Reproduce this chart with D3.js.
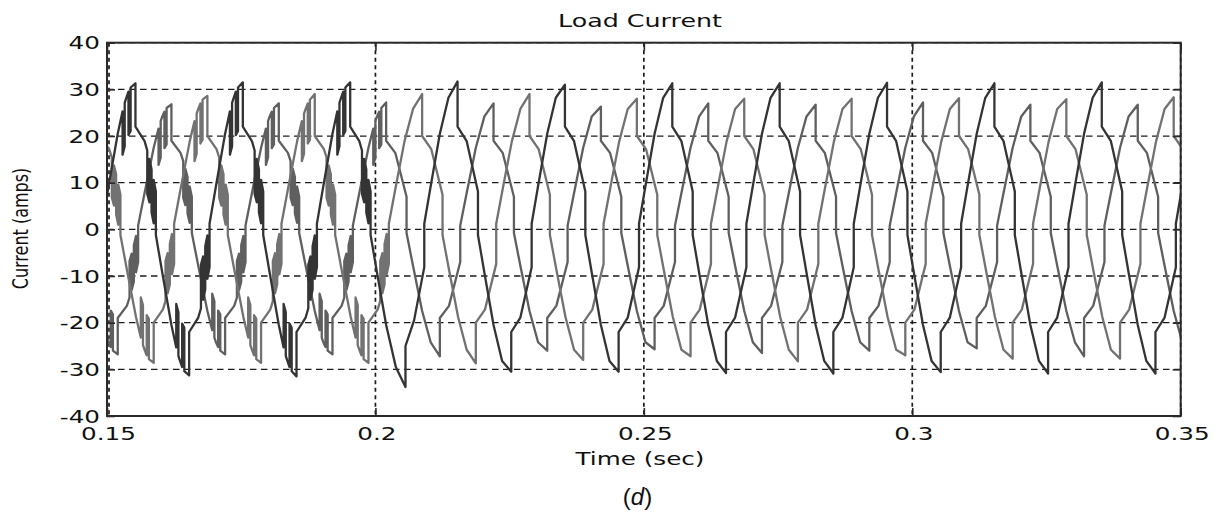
<!DOCTYPE html>
<html>
<head>
<meta charset="utf-8">
<script src="https://cdn.jsdelivr.net/npm/d3@7"></script>
<style>
  body { margin: 0; background: #fff; }
  svg { display: block; }
</style>
</head>
<body>
<svg id="chart" width="1217" height="512"></svg>
<script>
// Axis ticks (time in seconds, current in amps)
const xTicks = [0.15, 0.2, 0.25, 0.3, 0.35];
const xTickLabels = ["0.15", "0.2", "0.25", "0.3", "0.35"];
const yTicks = [-40, -30, -20, -10, 0, 10, 20, 30, 40];
const yTickLabels = ["-40", "-30", "-20", "-10", "0", "10", "20", "30", "40"];

// Three-phase load current samples: [time (ms), current (A)].
// Repeated times mark the switching steps.
const phaseA = [
  [145.3,-22.0],[147.0,-18.9],[149.1,-8.1],[149.1,1.2],[150.3,9.3],[152.0,20.5],
  [152.9,25.3],[152.9,16.0],[153.3,17.8],[153.3,27.1],[153.6,28.2],[154.0,29.5],[154.0,20.2],[154.4,21.1],[154.4,30.4],[155.3,31.3],[155.3,22.0],
  [157.0,18.9],
  [157.5,16.9],[157.5,7.6],[157.9,5.8],[157.9,15.1],[158.3,12.9],[158.3,3.6],[158.7,1.3],[158.7,10.6],[159.1,8.1],[159.1,-1.2],
  [160.3,-9.3],[162.0,-20.5],
  [162.9,-25.3],[162.9,-16.0],[163.3,-17.8],[163.3,-27.1],[163.6,-28.2],[164.0,-29.5],[164.0,-20.2],[164.4,-21.1],[164.4,-30.4],[165.3,-31.3],[165.3,-22.0],
  [167.0,-18.9],
  [167.5,-16.9],[167.5,-7.6],[167.9,-5.8],[167.9,-15.1],[168.3,-12.9],[168.3,-3.6],[168.7,-1.3],[168.7,-10.6],[169.1,-8.1],[169.1,1.2],
  [170.3,9.3],[172.0,20.5],
  [172.9,25.3],[172.9,16.0],[173.3,17.8],[173.3,27.1],[173.6,28.2],[174.0,29.5],[174.0,20.2],[174.4,21.1],[174.4,30.4],[175.3,31.5],[175.3,22.0],
  [177.0,18.9],
  [177.5,16.9],[177.5,7.6],[177.9,5.8],[177.9,15.1],[178.3,12.9],[178.3,3.6],[178.7,1.3],[178.7,10.6],[179.1,8.1],[179.1,-1.2],
  [180.3,-9.3],[182.0,-20.5],
  [182.9,-25.3],[182.9,-16.0],[183.3,-17.8],[183.3,-27.1],[183.6,-28.2],[184.0,-29.5],[184.0,-20.2],[184.4,-21.1],[184.4,-30.4],[185.3,-31.5],[185.3,-22.0],
  [187.0,-18.9],
  [187.5,-16.9],[187.5,-7.6],[187.9,-5.8],[187.9,-15.1],[188.3,-12.9],[188.3,-3.6],[188.7,-1.3],[188.7,-10.6],[189.1,-8.1],[189.1,1.2],
  [190.3,9.3],[192.0,20.5],
  [192.9,25.3],[192.9,16.0],[193.3,17.8],[193.3,27.1],[193.6,28.2],[194.0,29.5],[194.0,20.2],[194.4,21.1],[194.4,30.4],[195.3,31.5],[195.3,22.0],
  [197.0,18.9],
  [197.5,16.9],[197.5,7.6],[197.9,5.8],[197.9,15.1],[198.3,12.9],[198.3,3.6],[198.7,1.3],[198.7,10.6],[199.1,8.1],[199.1,-1.2],
  [200.3,-9.3],[202.0,-20.5],[203.8,-29.5],[205.6,-33.8],[205.6,-25.0],
  [207.2,-19.5],[209.1,-8.1],[209.1,1.2],[210.3,9.3],[212.0,20.5],[213.6,28.2],[215.3,31.7],[215.3,22.0],
  [217.0,18.9],[219.1,8.1],[219.1,-1.2],[220.3,-9.3],[222.0,-20.5],[223.6,-28.2],[225.3,-30.5],[225.3,-22.0],
  [227.0,-18.9],[229.1,-8.1],[229.1,1.2],[230.3,9.3],[232.0,20.5],[233.6,28.2],[235.3,31.0],[235.3,22.0],
  [237.0,18.9],[239.1,8.1],[239.1,-1.2],[240.3,-9.3],[242.0,-20.5],[243.6,-28.2],[245.3,-30.5],[245.3,-22.0],
  [247.0,-18.9],[249.1,-8.1],[249.1,1.2],[250.3,9.3],[252.0,20.5],[253.6,28.2],[255.3,31.3],[255.3,22.0],
  [257.0,18.9],[259.1,8.1],[259.1,-1.2],[260.3,-9.3],[262.0,-20.5],[263.6,-28.2],[265.3,-30.8],[265.3,-22.0],
  [267.0,-18.9],[269.1,-8.1],[269.1,1.2],[270.3,9.3],[272.0,20.5],[273.6,28.2],[275.3,31.3],[275.3,22.0],
  [277.0,18.9],[279.1,8.1],[279.1,-1.2],[280.3,-9.3],[282.0,-20.5],[283.6,-28.2],[285.3,-30.9],[285.3,-22.0],
  [287.0,-18.9],[289.1,-8.1],[289.1,1.2],[290.3,9.3],[292.0,20.5],[293.6,28.2],[295.3,31.4],[295.3,22.0],
  [297.0,18.9],[299.1,8.1],[299.1,-1.2],[300.3,-9.3],[302.0,-20.5],[303.6,-28.2],[305.3,-30.6],[305.3,-22.0],
  [307.0,-18.9],[309.1,-8.1],[309.1,1.2],[310.3,9.3],[312.0,20.5],[313.6,28.2],[315.3,31.3],[315.3,22.0],
  [317.0,18.9],[319.1,8.1],[319.1,-1.2],[320.3,-9.3],[322.0,-20.5],[323.6,-28.2],[325.3,-30.9],[325.3,-22.0],
  [327.0,-18.9],[329.1,-8.1],[329.1,1.2],[330.3,9.3],[332.0,20.5],[333.6,28.2],[335.3,31.5],[335.3,22.0],
  [337.0,18.9],[339.1,8.1],[339.1,-1.2],[340.3,-9.3],[342.0,-20.5],[343.6,-28.2],[345.3,-30.9],[345.3,-22.0],
  [347.0,-18.9],[349.1,-8.1],[349.1,1.2],[350.3,9.3],[352.0,20.5]
];

const phaseB = [
  [147.0,-7.8],[148.7,-17.5],
  [149.6,-21.6],[149.6,-13.8],[150.0,-15.4],[150.0,-23.2],[150.3,-24.2],[150.7,-25.2],[150.7,-17.4],[151.1,-18.2],[151.1,-26.0],[152.0,-26.8],[152.0,-19.0],
  [153.7,-16.4],
  [154.2,-14.6],[154.2,-6.8],[154.6,-5.2],[154.6,-13.0],[155.0,-11.2],[155.0,-3.4],[155.4,-1.4],[155.4,-9.2],[155.8,-7.0],[155.8,0.8],
  [157.0,7.8],[158.7,17.5],
  [159.6,21.6],[159.6,13.8],[160.0,15.4],[160.0,23.2],[160.3,24.2],[160.7,25.2],[160.7,17.4],[161.1,18.2],[161.1,26.0],[162.0,26.8],[162.0,19.0],
  [163.7,16.4],
  [164.2,14.6],[164.2,6.8],[164.6,5.2],[164.6,13.0],[165.0,11.2],[165.0,3.4],[165.4,1.4],[165.4,9.2],[165.8,7.0],[165.8,-0.8],
  [167.0,-7.8],[168.7,-17.5],
  [169.6,-21.6],[169.6,-13.8],[170.0,-15.4],[170.0,-23.2],[170.3,-24.2],[170.7,-25.2],[170.7,-17.4],[171.1,-18.2],[171.1,-26.0],[172.0,-26.8],[172.0,-19.0],
  [173.7,-16.4],
  [174.2,-14.6],[174.2,-6.8],[174.6,-5.2],[174.6,-13.0],[175.0,-11.2],[175.0,-3.4],[175.4,-1.4],[175.4,-9.2],[175.8,-7.0],[175.8,0.8],
  [177.0,7.8],[178.7,17.5],
  [179.6,21.6],[179.6,13.8],[180.0,15.4],[180.0,23.2],[180.3,24.2],[180.7,25.2],[180.7,17.4],[181.1,18.2],[181.1,26.0],[182.0,27.0],[182.0,19.0],
  [183.7,16.4],
  [184.2,14.6],[184.2,6.8],[184.6,5.2],[184.6,13.0],[185.0,11.2],[185.0,3.4],[185.4,1.4],[185.4,9.2],[185.8,7.0],[185.8,-0.8],
  [187.0,-7.8],[188.7,-17.5],
  [189.6,-21.6],[189.6,-13.8],[190.0,-15.4],[190.0,-23.2],[190.3,-24.2],[190.7,-25.2],[190.7,-17.4],[191.1,-18.2],[191.1,-26.0],[192.0,-26.8],[192.0,-19.0],
  [193.7,-16.4],
  [194.2,-14.6],[194.2,-6.8],[194.6,-5.2],[194.6,-13.0],[195.0,-11.2],[195.0,-3.4],[195.4,-1.4],[195.4,-9.2],[195.8,-7.0],[195.8,0.8],
  [197.0,7.8],[198.7,17.5],
  [199.6,21.6],[199.6,13.8],[200.0,15.4],[200.0,23.2],[200.3,24.2],[200.7,25.2],[200.7,17.4],[201.1,18.2],[201.1,26.0],[202.0,27.2],[202.0,19.0],
  [203.7,16.4],[205.8,7.0],[205.8,-0.8],[207.0,-7.8],[208.7,-17.5],[210.3,-24.2],[212.0,-27.2],[212.0,-19.0],
  [213.7,-16.4],[215.8,-7.0],[215.8,0.8],[217.0,7.8],[218.7,17.5],[220.3,24.2],[222.0,27.0],[222.0,19.0],
  [223.7,16.4],[225.8,7.0],[225.8,-0.8],[227.0,-7.8],[228.7,-17.5],[230.3,-24.2],[232.0,-26.0],[232.0,-19.0],
  [233.7,-16.4],[235.8,-7.0],[235.8,0.8],[237.0,7.8],[238.7,17.5],[240.3,24.2],[242.0,26.3],[242.0,19.0],
  [243.7,16.4],[245.8,7.0],[245.8,-0.8],[247.0,-7.8],[248.7,-17.5],[250.3,-24.2],[252.0,-25.7],[252.0,-19.0],
  [253.7,-16.4],[255.8,-7.0],[255.8,0.8],[257.0,7.8],[258.7,17.5],[260.3,24.2],[262.0,27.0],[262.0,19.0],
  [263.7,16.4],[265.8,7.0],[265.8,-0.8],[267.0,-7.8],[268.7,-17.5],[270.3,-24.2],[272.0,-26.5],[272.0,-19.0],
  [273.7,-16.4],[275.8,-7.0],[275.8,0.8],[277.0,7.8],[278.7,17.5],[280.3,24.2],[282.0,26.7],[282.0,19.0],
  [283.7,16.4],[285.8,7.0],[285.8,-0.8],[287.0,-7.8],[288.7,-17.5],[290.3,-24.2],[292.0,-26.0],[292.0,-19.0],
  [293.7,-16.4],[295.8,-7.0],[295.8,0.8],[297.0,7.8],[298.7,17.5],[300.3,24.2],[302.0,27.2],[302.0,19.0],
  [303.7,16.4],[305.8,7.0],[305.8,-0.8],[307.0,-7.8],[308.7,-17.5],[310.3,-24.2],[312.0,-25.5],[312.0,-19.0],
  [313.7,-16.4],[315.8,-7.0],[315.8,0.8],[317.0,7.8],[318.7,17.5],[320.3,24.2],[322.0,26.7],[322.0,19.0],
  [323.7,16.4],[325.8,7.0],[325.8,-0.8],[327.0,-7.8],[328.7,-17.5],[330.3,-24.2],[332.0,-27.2],[332.0,-19.0],
  [333.7,-16.4],[335.8,-7.0],[335.8,0.8],[337.0,7.8],[338.7,17.5],[340.3,24.2],[342.0,26.7],[342.0,19.0],
  [343.7,16.4],[345.8,7.0],[345.8,-0.8],[347.0,-7.8],[348.7,-17.5],[350.3,-24.2],[352.0,-26.8]
];

const phaseC = [
  [145.4,18.8],[147.0,25.8],[148.7,28.6],[148.7,20.0],[150.4,17.2],
  [150.9,15.4],[150.9,6.8],[151.3,5.1],[151.3,13.7],[151.7,11.8],[151.7,3.2],[152.1,1.0],[152.1,9.6],[152.5,7.4],[152.5,-1.2],
  [153.7,-8.6],[155.4,-18.8],
  [156.3,-23.2],[156.3,-14.6],[156.7,-16.2],[156.7,-24.8],[157.0,-25.8],[157.4,-27.0],[157.4,-18.4],[157.8,-19.2],[157.8,-27.8],[158.7,-28.6],[158.7,-20.0],
  [160.4,-17.2],
  [160.9,-15.4],[160.9,-6.8],[161.3,-5.1],[161.3,-13.7],[161.7,-11.8],[161.7,-3.2],[162.1,-1.0],[162.1,-9.6],[162.5,-7.4],[162.5,1.2],
  [163.7,8.6],[165.4,18.8],
  [166.3,23.2],[166.3,14.6],[166.7,16.2],[166.7,24.8],[167.0,25.8],[167.4,27.0],[167.4,18.4],[167.8,19.2],[167.8,27.8],[168.7,28.6],[168.7,20.0],
  [170.4,17.2],
  [170.9,15.4],[170.9,6.8],[171.3,5.1],[171.3,13.7],[171.7,11.8],[171.7,3.2],[172.1,1.0],[172.1,9.6],[172.5,7.4],[172.5,-1.2],
  [173.7,-8.6],[175.4,-18.8],
  [176.3,-23.2],[176.3,-14.6],[176.7,-16.2],[176.7,-24.8],[177.0,-25.8],[177.4,-27.0],[177.4,-18.4],[177.8,-19.2],[177.8,-27.8],[178.7,-28.6],[178.7,-20.0],
  [180.4,-17.2],
  [180.9,-15.4],[180.9,-6.8],[181.3,-5.1],[181.3,-13.7],[181.7,-11.8],[181.7,-3.2],[182.1,-1.0],[182.1,-9.6],[182.5,-7.4],[182.5,1.2],
  [183.7,8.6],[185.4,18.8],
  [186.3,23.2],[186.3,14.6],[186.7,16.2],[186.7,24.8],[187.0,25.8],[187.4,27.0],[187.4,18.4],[187.8,19.2],[187.8,27.8],[188.7,29.0],[188.7,20.0],
  [190.4,17.2],
  [190.9,15.4],[190.9,6.8],[191.3,5.1],[191.3,13.7],[191.7,11.8],[191.7,3.2],[192.1,1.0],[192.1,9.6],[192.5,7.4],[192.5,-1.2],
  [193.7,-8.6],[195.4,-18.8],
  [196.3,-23.2],[196.3,-14.6],[196.7,-16.2],[196.7,-24.8],[197.0,-25.8],[197.4,-27.0],[197.4,-18.4],[197.8,-19.2],[197.8,-27.8],[198.7,-28.6],[198.7,-20.0],
  [200.4,-17.2],
  [200.9,-15.4],[200.9,-6.8],[201.3,-5.1],[201.3,-13.7],[201.7,-11.8],[201.7,-3.2],[202.1,-1.0],[202.1,-9.6],[202.5,-7.4],[202.5,1.2],
  [203.7,8.6],[205.4,18.8],[207.0,25.8],[208.7,29.0],[208.7,20.0],
  [210.4,17.2],[212.5,7.4],[212.5,-1.2],[213.7,-8.6],[215.4,-18.8],[217.0,-25.8],[218.7,-28.7],[218.7,-20.0],
  [220.4,-17.2],[222.5,-7.4],[222.5,1.2],[223.7,8.6],[225.4,18.8],[227.0,25.8],[228.7,29.0],[228.7,20.0],
  [230.4,17.2],[232.5,7.4],[232.5,-1.2],[233.7,-8.6],[235.4,-18.8],[237.0,-25.8],[238.7,-28.0],[238.7,-20.0],
  [240.4,-17.2],[242.5,-7.4],[242.5,1.2],[243.7,8.6],[245.4,18.8],[247.0,25.8],[248.7,28.0],[248.7,20.0],
  [250.4,17.2],[252.5,7.4],[252.5,-1.2],[253.7,-8.6],[255.4,-18.8],[257.0,-25.8],[258.7,-27.2],[258.7,-20.0],
  [260.4,-17.2],[262.5,-7.4],[262.5,1.2],[263.7,8.6],[265.4,18.8],[267.0,25.8],[268.7,28.0],[268.7,20.0],
  [270.4,17.2],[272.5,7.4],[272.5,-1.2],[273.7,-8.6],[275.4,-18.8],[277.0,-25.8],[278.7,-28.3],[278.7,-20.0],
  [280.4,-17.2],[282.5,-7.4],[282.5,1.2],[283.7,8.6],[285.4,18.8],[287.0,25.8],[288.7,28.0],[288.7,20.0],
  [290.4,17.2],[292.5,7.4],[292.5,-1.2],[293.7,-8.6],[295.4,-18.8],[297.0,-25.8],[298.7,-27.0],[298.7,-20.0],
  [300.4,-17.2],[302.5,-7.4],[302.5,1.2],[303.7,8.6],[305.4,18.8],[307.0,25.8],[308.7,28.1],[308.7,20.0],
  [310.4,17.2],[312.5,7.4],[312.5,-1.2],[313.7,-8.6],[315.4,-18.8],[317.0,-25.8],[318.7,-27.7],[318.7,-20.0],
  [320.4,-17.2],[322.5,-7.4],[322.5,1.2],[323.7,8.6],[325.4,18.8],[327.0,25.8],[328.7,27.9],[328.7,20.0],
  [330.4,17.2],[332.5,7.4],[332.5,-1.2],[333.7,-8.6],[335.4,-18.8],[337.0,-25.8],[338.7,-27.7],[338.7,-20.0],
  [340.4,-17.2],[342.5,-7.4],[342.5,1.2],[343.7,8.6],[345.4,18.8],[347.0,25.8],[348.7,28.3],[348.7,20.0],
  [350.4,17.2]
];

const seriesData = [phaseB, phaseC, phaseA];
const seriesColors = ["#5f5f5f", "#727272", "#343434"];

// ---- layout ----
const svg = d3.select("#chart");
const plot = { left: 107, right: 1180.7, top: 42.7, bottom: 416 };
const x = d3.scaleLinear().domain([0.15, 0.35]).range([plot.left, plot.right]);
const y = d3.scaleLinear().domain([-40, 40]).range([plot.bottom, plot.top]);
const font = "'DejaVu Sans', Verdana, sans-serif";
const wide = 1.37; // horizontal stretch of the figure lettering

// grid
const gridH = svg.append("g");
gridH.selectAll("line").data(yTicks).join("line")
  .attr("x1", plot.left).attr("x2", plot.right)
  .attr("y1", d => y(d)).attr("y2", d => y(d))
  .attr("stroke", "#1c1c1c").attr("stroke-width", 1.3)
  .attr("stroke-dasharray", "6.5,4.5");
const gridV = svg.append("g");
gridV.selectAll("line").data(xTicks).join("line")
  .attr("x1", d => x(d) + (d === 0.15 ? 2 : 0)).attr("x2", d => x(d) + (d === 0.15 ? 2 : 0))
  .attr("y1", plot.top).attr("y2", plot.bottom)
  .attr("stroke", "#1c1c1c").attr("stroke-width", 1.7)
  .attr("stroke-dasharray", "4,3.5");

// waveforms
svg.append("clipPath").attr("id", "plotClip")
  .append("rect")
  .attr("x", plot.left).attr("y", plot.top)
  .attr("width", plot.right - plot.left).attr("height", plot.bottom - plot.top);

const line = d3.line()
  .x(d => x(d[0] / 1000))
  .y(d => y(d[1]));

svg.append("g").attr("clip-path", "url(#plotClip)")
  .selectAll("path").data(seriesData).join("path")
  .attr("d", d => line(d))
  .attr("fill", "none")
  .attr("stroke", (d, i) => seriesColors[i])
  .attr("stroke-width", 2.3)
  .attr("stroke-linejoin", "round");

// frame with inward ticks
svg.append("rect")
  .attr("x", plot.left).attr("y", plot.top)
  .attr("width", plot.right - plot.left).attr("height", plot.bottom - plot.top)
  .attr("fill", "none").attr("stroke", "#2a2a2a").attr("stroke-width", 2);

function styleTicks(g) {
  g.select(".domain").remove();
  g.selectAll(".tick line").attr("stroke", "#2a2a2a").attr("stroke-width", 1.6);
  g.selectAll(".tick text").remove();
}
svg.append("g").attr("transform", `translate(${plot.left},0)`)
  .call(d3.axisLeft(y).tickValues(yTicks).tickSize(-8)).call(styleTicks);
svg.append("g").attr("transform", `translate(${plot.right},0)`)
  .call(d3.axisRight(y).tickValues(yTicks).tickSize(-8)).call(styleTicks);
svg.append("g").attr("transform", `translate(0,${plot.bottom})`)
  .call(d3.axisBottom(x).tickValues(xTicks).tickSize(-8)).call(styleTicks);
svg.append("g").attr("transform", `translate(0,${plot.top})`)
  .call(d3.axisTop(x).tickValues(xTicks).tickSize(-8)).call(styleTicks);

// tick labels
svg.append("g").selectAll("text").data(yTicks).join("text")
  .attr("transform", d => `translate(100,${y(d) + 6.5}) scale(${wide},1)`)
  .attr("text-anchor", "end")
  .attr("font-family", font).attr("font-size", 18).attr("fill", "#111")
  .text((d, i) => yTickLabels[i]);

svg.append("g").selectAll("text").data(xTicks).join("text")
  .attr("transform", d => `translate(${x(d) + 1.5},440) scale(${wide},1)`)
  .attr("text-anchor", "middle")
  .attr("font-family", font).attr("font-size", 18).attr("fill", "#111")
  .text((d, i) => xTickLabels[i]);

// titles
svg.append("text")
  .attr("transform", `translate(640,27.3) scale(${wide},1)`)
  .attr("text-anchor", "middle")
  .attr("font-family", font).attr("font-size", 18.5).attr("fill", "#111")
  .text("Load Current");

svg.append("text")
  .attr("transform", `translate(640,465) scale(${wide},1)`)
  .attr("text-anchor", "middle")
  .attr("font-family", font).attr("font-size", 18).attr("fill", "#111")
  .text("Time (sec)");

svg.append("text")
  .attr("transform", `translate(28,228.5) rotate(-90) scale(1,${wide})`)
  .attr("text-anchor", "middle")
  .attr("font-family", font).attr("font-size", 16).attr("fill", "#111")
  .text("Current (amps)");

const cap = svg.append("text")
  .attr("x", 637.5).attr("y", 505)
  .attr("text-anchor", "middle")
  .attr("font-family", "'Liberation Sans', Arial, sans-serif")
  .attr("font-size", 24).attr("fill", "#111");
cap.append("tspan").text("(");
cap.append("tspan").attr("font-style", "italic").text("d");
cap.append("tspan").text(")");
</script>
</body>
</html>
